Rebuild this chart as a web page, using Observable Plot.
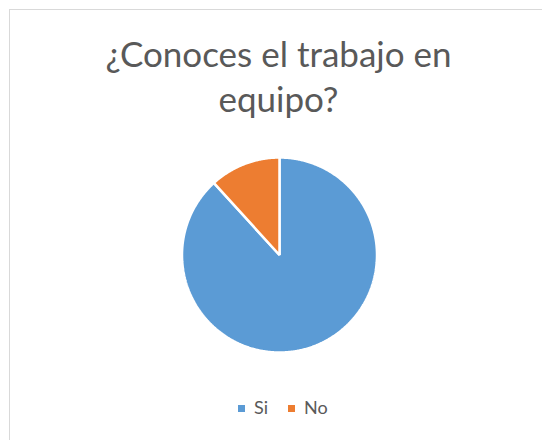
<!DOCTYPE html>
<html>
<head>
<meta charset="utf-8">
<script src="https://cdn.jsdelivr.net/npm/d3@7"></script>
<script src="https://cdn.jsdelivr.net/npm/@observablehq/plot@0.6"></script>
<style>
  html, body { margin: 0; padding: 0; background: #fff; }
  #wrap { position: relative; width: 542px; height: 440px; overflow: hidden; font-family: Lato, sans-serif; }
  #frame { position: absolute; left: 9px; top: 9px; width: 600px; height: 600px; border-left: 1px solid #D9D9D9; border-top: 1px solid #D9D9D9; }
  #chart { position: absolute; left: 0; top: 0; }
  #legend { position: absolute; left: 238px; top: 396px; display: flex; gap: 20px; font-size: 18px; line-height: 22px; color: #595959; }
  #legend span.item { display: flex; align-items: center; gap: 9px; }
  #legend span.sw { display: inline-block; width: 7px; height: 7px; position: relative; top: 1px; }
</style>
</head>
<body>
<div id="wrap">
  <div id="frame"></div>
  <div id="chart"></div>
  <div id="legend"></div>
</div>
<script>
const titleLines = ["¿Conoces el trabajo en", "equipo?"];
const categories = ["Si", "No"];
const values = [30, 4];
const colors = ["#5B9BD5", "#ED7D31"];

const W = 542, H = 440;
const cx = 279, cy = 254.5, R = 97.5;

const arcs = d3.pie().sort(null).value(d => d)(values);
const pts = [];
arcs.forEach((a, i) => {
  const cat = categories[i];
  pts.push({cat, x: 0, y: 0});
  const n = Math.max(2, Math.ceil((a.endAngle - a.startAngle) / (Math.PI / 360)));
  for (let k = 0; k <= n; k++) {
    const t = a.startAngle + (a.endAngle - a.startAngle) * k / n;
    pts.push({cat, x: R * Math.sin(t), y: R * Math.cos(t)});
  }
});

const titleStyle = {text: d => d, frameAnchor: "top", dx: 7, lineAnchor: "bottom", fontSize: 35, fill: "#595959", fontFamily: "Lato"};

const chart = Plot.plot({
  width: W,
  height: H,
  margin: 0,
  x: {domain: [-cx, W - cx], axis: null},
  y: {domain: [-(H - cy), cy], axis: null},
  color: {domain: categories, range: colors},
  style: {background: "transparent", overflow: "visible"},
  marks: [
    Plot.line(pts, {x: "x", y: "y", z: "cat", fill: "cat", stroke: "white", strokeWidth: 2.5, curve: "linear-closed", strokeLinejoin: "miter"}),
    Plot.text([titleLines[0]], {...titleStyle, dy: 66}),
    Plot.text([titleLines[1]], {...titleStyle, dy: 111})
  ]
});
document.getElementById("chart").appendChild(chart);

const leg = document.getElementById("legend");
categories.forEach((c, i) => {
  const item = document.createElement("span");
  item.className = "item";
  const sw = document.createElement("span");
  sw.className = "sw";
  sw.style.background = colors[i];
  const t = document.createElement("span");
  t.textContent = c;
  item.appendChild(sw);
  item.appendChild(t);
  leg.appendChild(item);
});
</script>
</body>
</html>
